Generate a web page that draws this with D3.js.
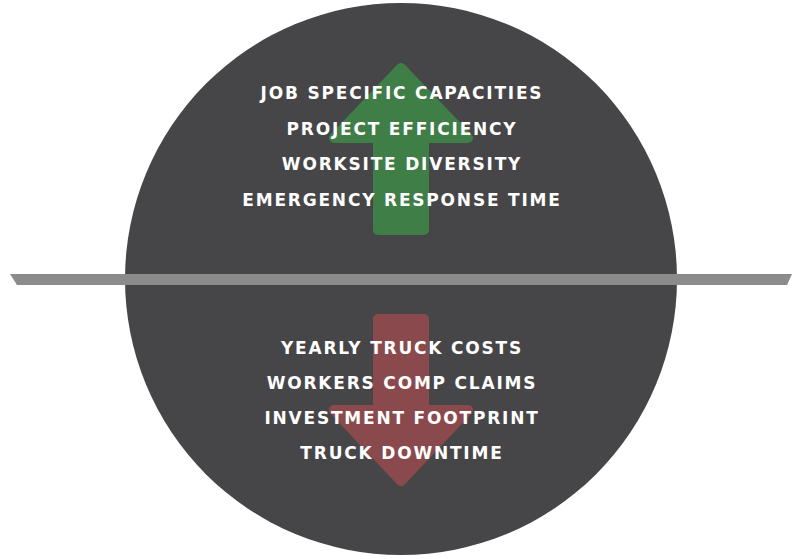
<!DOCTYPE html>
<html><head><meta charset="utf-8">
<script src="https://cdn.jsdelivr.net/npm/d3@7"></script>
<style>html,body{margin:0;padding:0;background:#fff;}svg{display:block;}</style>
</head><body>
<svg id="c" width="797" height="559"></svg>
<script>
const upItems = ["JOB SPECIFIC CAPACITIES","PROJECT EFFICIENCY","WORKSITE DIVERSITY","EMERGENCY RESPONSE TIME"];
const downItems = ["YEARLY TRUCK COSTS","WORKERS COMP CLAIMS","INVESTMENT FOOTPRINT","TRUCK DOWNTIME"];

const svg = d3.select("#c");
const cx = 401, cy = 279, r = 276;
svg.append("circle").attr("cx",cx).attr("cy",cy).attr("r",r).attr("fill","#464547");

const sw = 10, h = sw/2;
function arrowPath(dir){
  const apexY = dir<0 ? 60 : 489;
  const baseY = dir<0 ? 143 : 405;
  const endY = dir<0 ? 235 : 314;
  const hx = 78, sx = 28;
  const pts = [
    [cx, apexY - dir*h*1.6],
    [cx+hx-h*2.2, baseY + dir*h],
    [cx+sx-h, baseY + dir*h],
    [cx+sx-h, endY + dir*h],
    [cx-sx+h, endY + dir*h],
    [cx-sx+h, baseY + dir*h],
    [cx-hx+h*2.2, baseY + dir*h]
  ];
  return d3.line()(pts)+"Z";
}
svg.append("path").attr("d",arrowPath(-1)).attr("fill","#3f7e47").attr("stroke","#3f7e47")
  .attr("stroke-width",sw).attr("stroke-linejoin","round");
svg.append("path").attr("d",arrowPath(1)).attr("fill","#8a4a4d").attr("stroke","#8a4a4d")
  .attr("stroke-width",sw).attr("stroke-linejoin","round");

svg.append("path").attr("d",d3.line()([[10,274],[792,274],[787,285],[17,285]])+"Z").attr("fill","#8b8b8b");

const yUp = d3.scalePoint().domain(upItems).range([99,206]);
const yDown = d3.scalePoint().domain(downItems).range([354,459]);
function texts(items, y){
  svg.append("g").selectAll("text").data(items).join("text")
    .attr("x",cx+1).attr("y",d=>y(d)).attr("text-anchor","middle")
    .attr("fill","#ffffff").attr("font-family","'DejaVu Sans', sans-serif")
    .attr("font-weight",700).attr("font-size",17).attr("letter-spacing",1.8)
    .text(d=>d);
}
texts(upItems,yUp);
texts(downItems,yDown);
</script>
</body></html>
